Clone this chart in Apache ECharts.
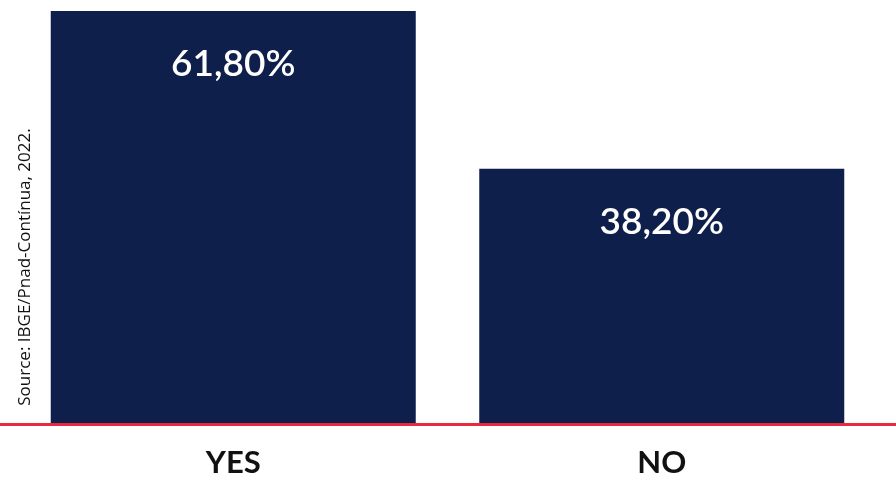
<!DOCTYPE html>
<html><head><meta charset="utf-8">
<script src="https://cdn.jsdelivr.net/npm/echarts@6/dist/echarts.min.js"></script>
<style>html,body{margin:0;padding:0;background:#fff}#c{width:896px;height:479px}</style>
</head><body><div id="c"></div>
<script>
const categories = ['YES', 'NO'];
const values = [61.8, 38.2];
const sourceText = 'Source: IBGE/Pnad-Contínua, 2022.';

const chart = echarts.init(document.getElementById('c'));
chart.setOption({
  animation: false,
  grid: {left: 19, right: 20, top: 11, bottom: 55},
  xAxis: {
    type: 'category', data: categories,
    axisLine: {show: false}, axisTick: {show: false},
    axisLabel: {color: '#111', fontSize: 31, fontWeight: 'bold', fontFamily: 'Lato', margin: 23}
  },
  yAxis: {type: 'value', min: 0, max: 61.8, show: false, splitLine: {show: false}},
  series: [{
    type: 'bar', data: values, barWidth: 365,
    itemStyle: {color: '#0f1f4b'},
    label: {
      show: true, position: 'insideTop', distance: 35,
      color: '#fff', fontSize: 37, fontWeight: 600, fontFamily: 'Lato',
      formatter: p => p.value.toFixed(2).replace('.', ',') + '%'
    }
  }],
  graphic: [
    {type: 'line', shape: {x1: 0, y1: 424.5, x2: 896, y2: 424.5}, style: {stroke: '#e8293f', lineWidth: 3}, z: 10},
    {type: 'text', x: 25, y: 267, rotation: Math.PI / 2,
     style: {text: sourceText, fill: '#111', fontSize: 17, fontFamily: 'Open Sans', align: 'center', verticalAlign: 'middle'}}
  ]
});
</script></body></html>
